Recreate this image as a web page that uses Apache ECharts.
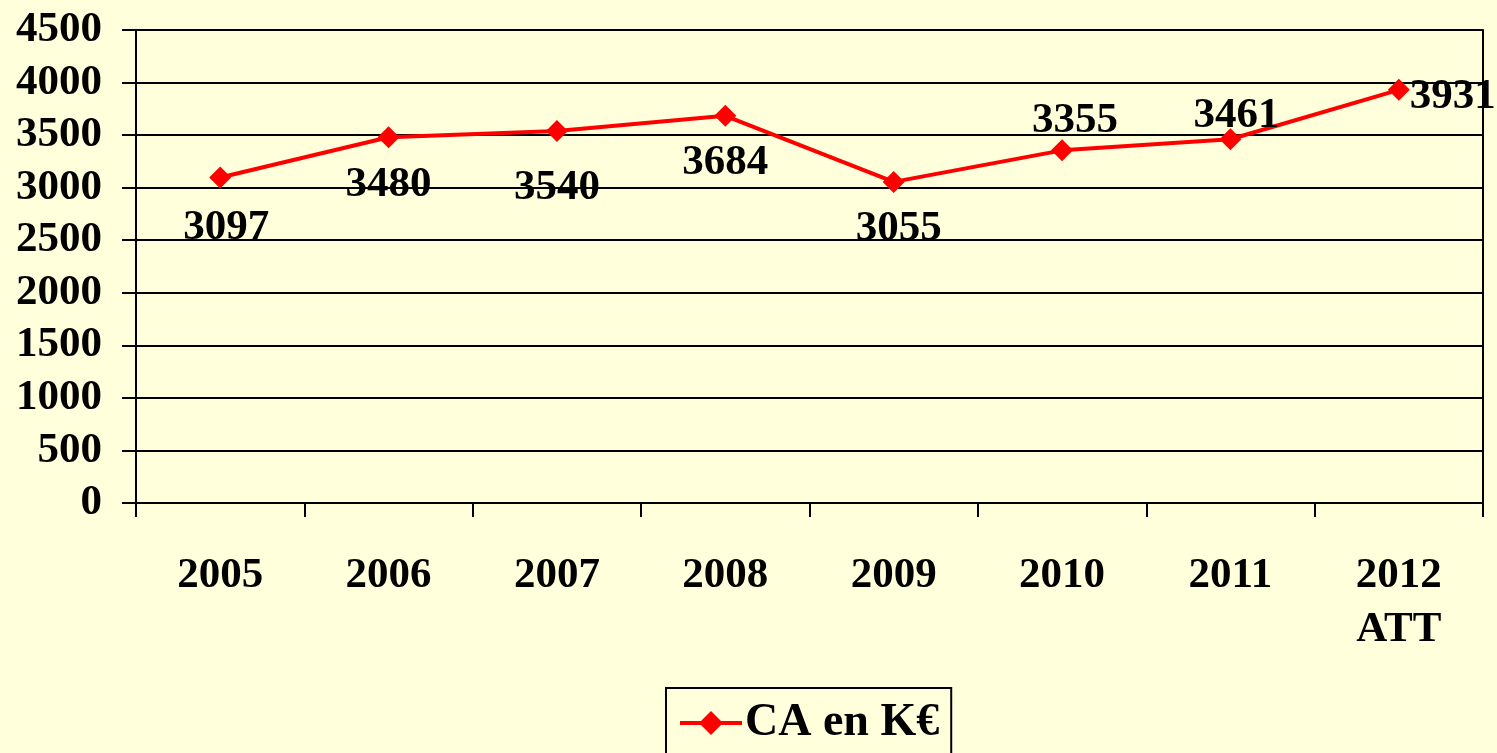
<!DOCTYPE html>
<html>
<head>
<meta charset="utf-8">
<script src="https://cdn.jsdelivr.net/npm/echarts@6/dist/echarts.min.js"></script>
<style>
  html, body { margin: 0; padding: 0; background: #ffffdc; }
  #chart { width: 1497px; height: 753px; }
</style>
</head>
<body>
<div id="chart"></div>
<script>
const years = ['2005', '2006', '2007', '2008', '2009', '2010', '2011', '2012\nATT'];
const caValues = [3097, 3480, 3540, 3684, 3055, 3355, 3461, 3931];
const seriesName = 'CA en K€';

// where each value label sits relative to its point, in px
const labelOffsets = [[6, 50], [0, 48], [0, 57], [0, 47], [5, 47], [13, -29], [6, -23], [54, 7]];

const font = 'Liberation Serif';
const chart = echarts.init(document.getElementById('chart'));

chart.setOption({
  backgroundColor: '#ffffdc',
  animation: false,
  textStyle: { fontFamily: font, fontWeight: 'bold', color: '#000' },
  grid: { left: 136, right: 14, top: 30, bottom: 250 },
  legend: {
    left: 666,
    top: 688,
    padding: [12, 12, 20, 12],
    borderColor: '#000',
    borderWidth: 2,
    itemWidth: 62,
    itemHeight: 30,
    itemGap: 6,
    lineStyle: { width: 4 },
    textStyle: { fontFamily: font, fontWeight: 'bold', fontSize: 46, color: '#000', padding: [0, 0, 0, -2] },
    data: [seriesName]
  },
  xAxis: {
    type: 'category',
    data: years,
    axisLine: { lineStyle: { color: '#000', width: 2 } },
    axisTick: { show: true, length: 14, lineStyle: { color: '#000', width: 2 } },
    axisLabel: {
      margin: 46, fontSize: 43, fontFamily: font, fontWeight: 'bold',
      color: '#000', lineHeight: 54
    }
  },
  yAxis: [{
    type: 'value',
    min: 0,
    max: 4500,
    interval: 500,
    axisLine: { show: true, lineStyle: { color: '#000', width: 2 } },
    axisTick: { show: true, length: 14, lineStyle: { color: '#000', width: 2 } },
    axisLabel: {
      margin: 34, fontSize: 43, fontFamily: font, fontWeight: 'bold', color: '#000',
      formatter: v => String(v)
    },
    splitLine: { lineStyle: { color: '#000', width: 2 } }
  }, {
    type: 'value',
    position: 'right',
    min: 0,
    max: 4500,
    interval: 500,
    axisLine: { show: true, lineStyle: { color: '#000', width: 2 } },
    axisTick: { show: false },
    axisLabel: { show: false },
    splitLine: { show: false }
  }],
  series: [{
    name: seriesName,
    type: 'line',
    data: caValues.map((v, i) => ({
      value: v,
      label: { offset: labelOffsets[i] }
    })),
    color: '#ff0000',
    lineStyle: { color: '#ff0000', width: 4 },
    symbol: 'diamond',
    symbolSize: 22,
    itemStyle: { color: '#ff0000' },
    label: {
      show: true,
      position: 'inside',
      fontFamily: font,
      fontWeight: 'bold',
      fontSize: 43,
      color: '#000'
    }
  }]
});
</script>
</body>
</html>
